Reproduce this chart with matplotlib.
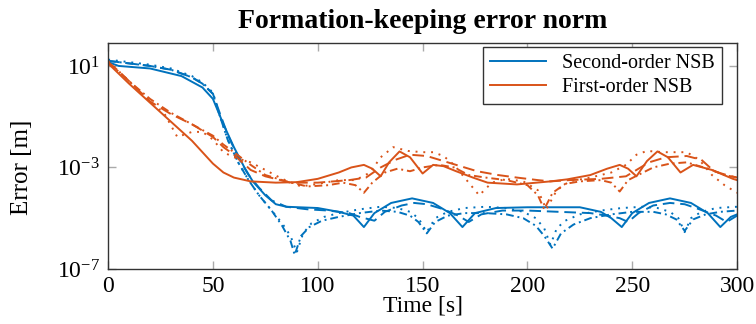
import numpy as np
import matplotlib
matplotlib.use('Agg')
import matplotlib.pyplot as plt

plt.rcParams['font.family'] = ['Liberation Serif', 'DejaVu Serif']
plt.rcParams['mathtext.fontset'] = 'custom'
plt.rcParams['mathtext.rm'] = 'Liberation Serif'
plt.rcParams['mathtext.it'] = 'Liberation Serif:italic'

BLUE = '#0072BD'
ORANGE = '#D95319'

# error norms stored as log10 exponents, one list per agent
so_solid_t = [0, 5, 20, 35, 45, 50, 55, 60, 65, 69, 75, 80, 85, 100, 110, 117, 122, 127, 135, 145,
              155, 163, 169, 175, 185, 200, 225, 235, 240, 245, 250, 258, 268, 278, 286, 292, 297, 300]
so_solid_e = [1.15, 1.0, 0.9, 0.6, 0.15, -0.3, -1.3, -2.2, -3.0, -3.55, -4.1, -4.45, -4.55, -4.6, -4.75,
              -4.9, -5.35, -4.8, -4.4, -4.22, -4.4, -4.8, -5.35, -4.8, -4.6, -4.57, -4.57, -4.75, -5.0,
              -5.35, -4.8, -4.4, -4.22, -4.4, -4.8, -5.35, -4.95, -4.85]

so_dash_t = [0, 10, 20, 30, 40, 45, 50, 53, 57, 62, 67, 72, 78, 85, 95, 105, 115, 120, 127, 132, 140,
             146, 152, 160, 167, 172, 178, 188, 200, 215, 230, 238, 244, 248, 253, 260, 268, 275, 282,
             290, 295, 300]
so_dash_e = [1.2, 1.1, 1.0, 0.85, 0.55, 0.3, -0.1, -0.8, -1.7, -2.6, -3.3, -3.8, -4.3, -4.55, -4.65,
             -4.7, -4.8, -4.95, -5.1, -4.75, -4.5, -4.4, -4.45, -4.65, -4.9, -5.15, -4.85, -4.7, -4.7,
             -4.75, -4.8, -4.9, -5.0, -5.15, -4.8, -4.5, -4.4, -4.45, -4.65, -4.9, -5.15, -4.9]

so_dot_t = [0, 10, 20, 30, 40, 45, 50, 53, 57, 62, 67, 72, 78, 83, 87, 90, 93, 97, 103, 110, 120, 130,
            138, 144, 148, 152, 156, 162, 170, 180, 190, 198, 204, 208, 211, 214, 218, 225, 235, 245,
            255, 262, 268, 272, 275, 278, 283, 290, 300]
so_dot_e = [1.25, 1.15, 1.05, 0.9, 0.6, 0.35, -0.05, -0.9, -1.9, -2.8, -3.5, -4.1, -4.7, -5.2, -5.7,
            -6.35, -5.6, -5.2, -4.95, -4.8, -4.65, -4.55, -4.6, -4.75, -5.0, -5.55, -5.0, -4.75, -4.6,
            -4.55, -4.6, -4.75, -5.0, -5.4, -6.05, -5.4, -5.1, -4.85, -4.7, -4.6, -4.55, -4.6, -4.75,
            -5.0, -5.55, -5.0, -4.75, -4.6, -4.55]

so_dashdot_t = [0, 10, 20, 30, 40, 45, 50, 53, 57, 62, 67, 72, 78, 83, 87, 89, 92, 96, 102, 110, 120,
                130, 138, 144, 148, 152, 156, 162, 170, 180, 190, 198, 204, 208, 212, 216, 222, 230,
                240, 250, 260, 266, 271, 275, 279, 285, 292, 300]
so_dashdot_e = [1.2, 1.1, 1.0, 0.85, 0.55, 0.3, -0.1, -0.9, -1.9, -2.8, -3.5, -4.1, -4.7, -5.3, -5.9,
                -6.45, -5.7, -5.35, -5.1, -4.95, -4.8, -4.7, -4.75, -4.9, -5.15, -5.6, -5.15, -4.9,
                -4.8, -4.8, -4.85, -5.0, -5.3, -5.7, -6.2, -5.6, -5.25, -5.0, -4.85, -4.75, -4.75,
                -4.85, -5.05, -5.5, -5.05, -4.85, -4.75, -4.7]

fo_solid_t = [0, 10, 20, 30, 40, 45, 50, 55, 60, 68, 80, 90, 100, 110, 116, 122, 126, 130, 134, 139,
              144, 150, 155, 160, 166, 174, 181, 195, 211, 219, 230, 238, 244, 248, 252, 257, 262,
              267, 273, 279, 288, 298, 300]
fo_solid_e = [1.1, 0.3, -0.45, -1.2, -1.95, -2.4, -2.85, -3.2, -3.4, -3.55, -3.6, -3.58, -3.45, -3.2,
              -3.0, -2.9, -3.05, -3.35, -2.8, -2.37, -2.6, -3.24, -2.9, -2.95, -3.15, -3.4, -3.6, -3.67,
              -3.55, -3.47, -3.3, -3.05, -2.9, -3.05, -3.35, -2.75, -2.37, -2.6, -3.2, -2.9, -3.1,
              -3.45, -3.5]

fo_dash_t = [0, 5, 10, 20, 30, 40, 50, 55, 60, 68, 75, 87, 100, 115, 123, 130, 137, 144, 152, 160,
             168, 176, 186, 195, 205, 211, 220, 235, 247, 252, 258, 266, 276, 283, 289, 295, 300]
fo_dash_e = [1.15, 0.8, 0.4, -0.4, -0.9, -1.3, -1.8, -2.2, -2.5, -3.1, -3.35, -3.6, -3.6, -3.5, -3.4,
             -3.0, -2.7, -2.5, -2.55, -2.75, -2.95, -3.15, -3.3, -3.4, -3.5, -3.55, -3.5, -3.45,
             -3.35, -3.1, -2.8, -2.6, -2.55, -2.7, -3.15, -3.3, -3.4]

fo_dashdot_t = [0, 10, 20, 30, 40, 50, 55, 60, 68, 75, 85, 95, 105, 112, 118, 122, 126, 132, 138,
                144, 150, 158, 165, 172, 180, 190, 200, 205, 208, 212, 218, 225, 235, 240, 244, 248,
                254, 260, 268, 276, 282, 288, 294, 300]
fo_dashdot_e = [1.15, 0.4, -0.3, -0.85, -1.3, -1.75, -2.1, -2.4, -2.9, -3.3, -3.55, -3.75, -3.7,
                -3.6, -3.7, -4.0, -3.6, -3.2, -3.05, -3.15, -3.0, -2.9, -3.0, -3.3, -3.4, -3.5, -3.7,
                -4.1, -4.65, -4.0, -3.65, -3.55, -3.5, -3.6, -3.95, -3.5, -3.25, -3.0, -2.85, -2.8,
                -2.95, -3.1, -3.3, -3.4]

fo_dot_t = [0, 10, 20, 27, 33, 40, 45, 50, 55, 60, 68, 75, 83, 92, 100, 110, 118, 125, 130, 136, 143,
            150, 155, 160, 165, 170, 177, 183, 190, 198, 205, 209, 214, 220, 230, 240, 247, 252, 257,
            265, 272, 276, 282, 288, 294, 300]
fo_dot_e = [1.2, 0.4, -0.4, -0.9, -1.8, -1.6, -1.6, -1.9, -2.4, -2.6, -2.8, -3.1, -3.45, -3.75, -3.65,
            -3.5, -3.5, -3.2, -2.6, -2.2, -2.35, -2.4, -2.4, -2.55, -2.9, -3.4, -4.1, -3.6, -3.45,
            -3.55, -3.9, -4.65, -3.9, -3.55, -3.4, -3.2, -2.9, -2.5, -2.35, -2.4, -2.4, -2.4, -2.7,
            -3.3, -3.7, -4.0]

x_ticks = [0, 50, 100, 150, 200, 250, 300]
y_ticks = [1e-7, 1e-3, 1e1]

styles = ['-', (0, (6, 3)), (0, (4, 2, 1, 2)), (0, (1, 3))]
second_order = [(so_solid_t, so_solid_e), (so_dash_t, so_dash_e),
                (so_dashdot_t, so_dashdot_e), (so_dot_t, so_dot_e)]
first_order = [(fo_solid_t, fo_solid_e), (fo_dash_t, fo_dash_e),
               (fo_dashdot_t, fo_dashdot_e), (fo_dot_t, fo_dot_e)]

fig = plt.figure(figsize=(7.56, 3.24), dpi=100)
ax = fig.add_axes([0.143, 0.170, 0.832, 0.697])

for ls, (t, e) in zip(styles, second_order):
	ax.plot(t, 10.0 ** np.array(e), color=BLUE, linestyle=ls, linewidth=1.4)
for ls, (t, e) in zip(styles, first_order):
	ax.plot(t, 10.0 ** np.array(e), color=ORANGE, linestyle=ls, linewidth=1.4)

ax.set_yscale('log')
ax.set_xlim(0, 300)
ax.set_ylim(1e-7, 10 ** 1.9)
ax.set_xticks(x_ticks)
ax.set_yticks(y_ticks)
ax.minorticks_off()
ax.tick_params(direction='in', length=6, width=1, color='#aaaaaa', labelcolor='black',
               labelsize=17, top=True, right=True)
ax.tick_params(axis='x', pad=5)
ax.tick_params(axis='y', pad=6)
for s in ax.spines.values():
	s.set_color('#333333')
	s.set_linewidth(1)

# x label is pulled up close to the tick labels
ax.set_xlabel('Time [s]', fontsize=17)
ax.xaxis.set_label_coords(0.5, -0.118)
ax.set_ylabel('Error [m]', fontsize=18)
ax.yaxis.set_label_coords(-0.12, 0.45)
ax.set_title('Formation-keeping error norm', fontsize=20, fontweight='bold', pad=11)

h1, = ax.plot([], [], color=BLUE, linewidth=1.4)
h2, = ax.plot([], [], color=ORANGE, linewidth=1.4)
leg = ax.legend([h1, h2], ['Second-order NSB', 'First-order NSB'], loc='upper right',
                bbox_to_anchor=(0.976, 0.982), borderaxespad=0,
                fontsize=14.5, fancybox=False, edgecolor='#333333', framealpha=1,
                handlelength=2.8, borderpad=0.35, labelspacing=0.25)
leg.get_frame().set_linewidth(1)

fig.savefig('out.png', dpi=100)
